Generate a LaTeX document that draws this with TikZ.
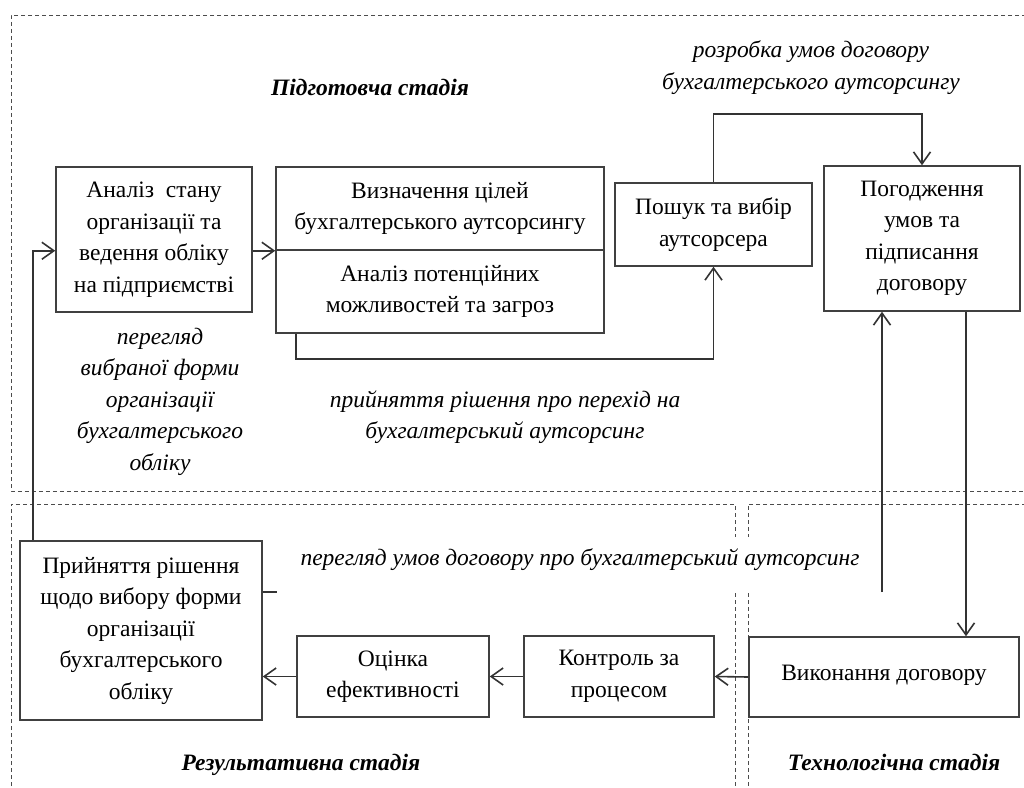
\documentclass[tikz,border=0pt]{standalone}
\usepackage{fontspec}
\setmainfont{Liberation Serif}
\usetikzlibrary{arrows.meta,calc}
\begin{document}
\begin{tikzpicture}[x=1pt,y=-1pt,
  box/.style={draw=black!75,line width=1.5pt,align=center,inner sep=0pt,
    font=\fontsize{23.5}{31.5}\selectfont},
  arr/.style={draw=black!80,line width=1.6pt,-{Straight Barb[length=12pt,width=17pt,line width=1.6pt]}},
  ln/.style={draw=black!80,line width=1.6pt},
  dsh/.style={draw=black!70,line width=0.9pt,dash pattern=on 4pt off 3pt},
  lab/.style={align=center,inner sep=0pt,font=\fontsize{23.5}{31.5}\selectfont\itshape},
  stage/.style={inner sep=0pt,font=\fontsize{23.5}{28}\selectfont\bfseries\itshape}]
\useasboundingbox (0,0) rectangle (1024,787);
\clip (0,0) rectangle (1024,787);
\fill[white] (0,0) rectangle (1024,787);
% dashed stage frames
\draw[dsh] (1040,15) -- (11,15) -- (11,491) -- (1040,491);
\draw[dsh] (11,800) -- (11,504) -- (735,504) -- (735,537);
\draw[dsh] (735,593) -- (735,800);
\draw[dsh] (1040,504) -- (748,504) -- (748,537);
\draw[dsh] (748,593) -- (748,800);
% boxes
\node[box,minimum width=196pt,minimum height=145pt] (A) at (154,239.5)
  {Аналіз\ \ стану\\організації та\\ведення обліку\\на підприємстві};
\node[box,minimum width=328pt,minimum height=83pt] (Bt) at (440,208.5)
  {Визначення цілей\\бухгалтерського аутсорсингу};
\node[box,minimum width=328pt,minimum height=83pt] (Bb) at (440,291.5)
  {Аналіз потенційних\\можливостей та загроз};
\node[box,minimum width=197pt,minimum height=83pt] (C) at (713.5,224.5)
  {Пошук та вибір\\аутсорсера};
\node[box,minimum width=196pt,minimum height=145pt] (D) at (922,238.5)
  {Погодження\\умов та\\підписання\\договору};
\node[box,minimum width=242pt,minimum height=179pt] (E) at (141,630.5)
  {Прийняття рішення\\щодо вибору форми\\організації\\бухгалтерського\\обліку};
\node[box,minimum width=192pt,minimum height=81pt] (F) at (393,676.5)
  {Оцінка\\ефективності};
\node[box,minimum width=190pt,minimum height=81pt] (G) at (619,676.5)
  {Контроль за\\процесом};
\node[box,minimum width=270pt,minimum height=80pt,text depth=8pt] (H) at (884,677)
  {Виконання договору};
% labels
\node[stage] (s1) at (370,87) {Підготовча стадія};
\node[stage] (s2) at (301,765) {Результативна стадія};
\node[stage] (s3) at (894,762) {Технологічна стадія};
\node[lab] (l1) at (811,67.5) {розробка умов договору\\бухгалтерського аутсорсингу};
\node[lab] (l2) at (160,401.5) {перегляд\\вибраної форми\\організації\\бухгалтерського\\обліку};
\node[lab] (l3) at (505,417) {прийняття рішення про перехід на\\бухгалтерський аутсорсинг};
\node[lab] (l4) at (580,560) {перегляд умов договору про бухгалтерський аутсорсинг};
% coordinates
\coordinate (eup) at ($(E.north west)+(14,0)$);
\coordinate (bdn) at ($(Bb.south west)+(21,0)$);
\coordinate (dx) at (966,0);
\coordinate (u) at (882,592);
% connectors
\draw[arr] (A.east |- Bt.south west) -- (Bt.south west);
\draw[arr] (eup) |- (A.west |- Bt.south west);
\draw[arr] (bdn) -- ++(0,25) -| (C.south);
\draw[arr] (C.north) -- ++(0,-68) -| (D.north);
\draw[arr] (D.south -| dx) -- (H.north -| dx);
\draw[arr] (u) -- (u |- D.south);
\draw[ln] (E.east |- u) -- ++(14,0);
\draw[arr] (H.west) -- (G.east);
\draw[arr] (G.west) -- (F.east);
\draw[arr] (F.west) -- (F.west -| E.east);
\end{tikzpicture}
\end{document}
